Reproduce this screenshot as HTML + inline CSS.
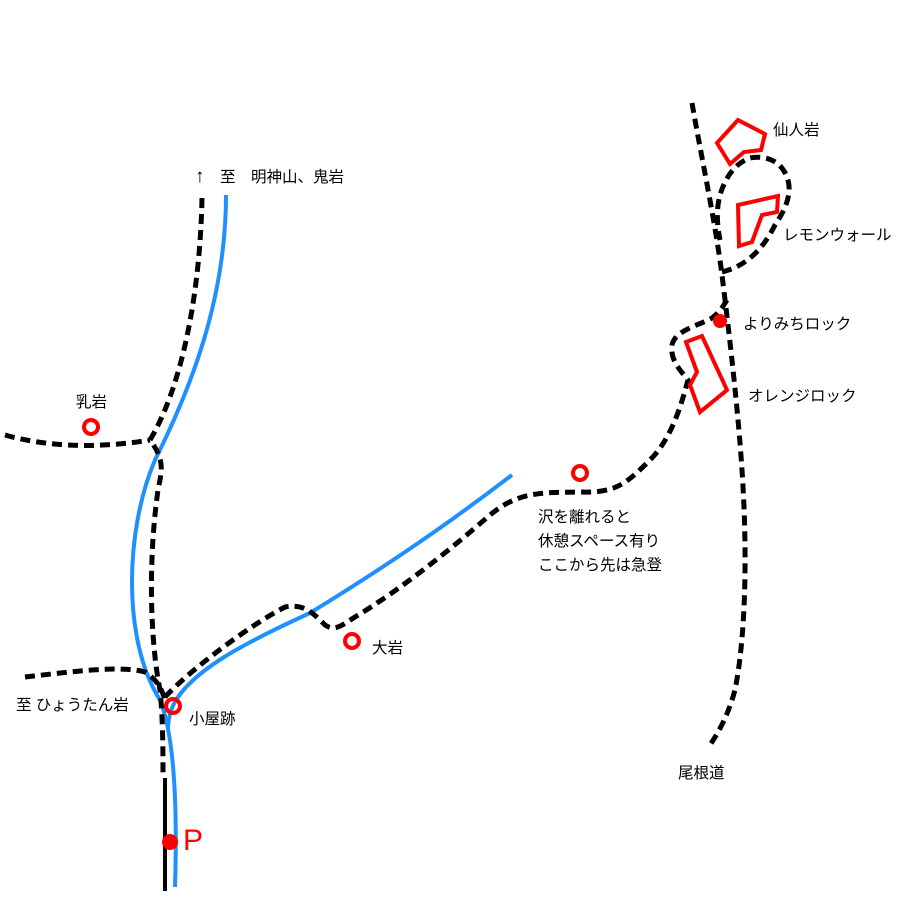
<!DOCTYPE html>
<html><head><meta charset="utf-8"><style>
html,body{margin:0;padding:0;background:#fff;}
svg{display:block;}
text{font-family:"Liberation Sans","Noto Sans CJK JP",sans-serif;font-size:15.5px;fill:#000;}
</style></head><body>
<svg width="900" height="900" viewBox="0 0 900 900" xmlns="http://www.w3.org/2000/svg">
<g fill="none" stroke="#1e90ff" stroke-width="4">
<path d="M226,195 C226,300 190,390 155,460 C125,530 122,640 160,700 C172,730 178,790 175,887"/>
<path d="M512,475 C440,530 380,570 310,613 C240,645 195,670 176,700 C170,710 168,720 168,730"/>
</g>
<line x1="165" y1="778" x2="165" y2="891" stroke="#000" stroke-width="4"/>
<g fill="none" stroke="#000" stroke-width="5" stroke-dasharray="10,6">
<path d="M202,198 C200,300 180,390 150,440 C165,460 162,470 158,490 C148,560 150,640 160,690 C163,720 163,750 163,778"/>
<path d="M5,435 C40,445 90,450 150,440"/>
<path d="M25,677 C70,672 120,665 145,672 C158,680 162,690 165,700"/>
<path d="M165,697 C190,670 250,625 285,607 C305,603 315,615 325,625 C335,632 342,625 355,617 C400,590 450,550 490,515 C520,490 545,493 580,492 C615,493 625,485 650,460 C670,440 680,410 688,380 C680,370 670,360 672,345 C675,330 700,325 712,318 C720,312 724,305 728,298"/>
<path d="M692,103 C700,150 715,220 722,275 C730,340 738,410 742,470 C748,560 745,640 735,690 C728,715 720,730 710,745"/>
<path d="M722,272 C750,265 765,245 775,225 C785,210 792,195 788,180 C782,160 765,155 750,158 C735,163 725,178 720,195 C716,210 717,225 720,240"/>
</g>
<g fill="none" stroke="#f00" stroke-width="4" stroke-linejoin="miter">
<polygon points="738,120 765,134 761,150 744,152 730,164 717,143"/>
<polygon points="738,205 778,196 777,212 762,215 752,242 739,246"/>
<polygon points="686,342 702,336 727,390 700,412 690,385 697,372"/>
<circle cx="91" cy="427" r="7"/>
<circle cx="580" cy="473" r="7"/>
<circle cx="352" cy="641" r="7"/>
<circle cx="173" cy="706" r="7"/>
</g>
<circle cx="720" cy="321" r="7" fill="#f00"/>
<circle cx="170" cy="842" r="8" fill="#f00"/>
<text x="195" y="182"><tspan style="font-size:19px">↑</tspan>　至　明神山、鬼岩</text>
<text x="76" y="407">乳岩</text>
<text x="16" y="710">至 ひょうたん岩</text>
<text x="189" y="724">小屋跡</text>
<text x="183" y="850" style="font-size:30px;fill:#f00">P</text>
<text x="372" y="653">大岩</text>
<text x="538" y="522">沢を離れると</text>
<text x="538" y="546">休憩スペース有り</text>
<text x="538" y="570">ここから先は急登</text>
<text x="773" y="135">仙人岩</text>
<text x="783" y="240">レモンウォール</text>
<text x="743" y="329">よりみちロック</text>
<text x="748" y="401">オレンジロック</text>
<text x="678" y="778">尾根道</text>
</svg>
</body></html>
